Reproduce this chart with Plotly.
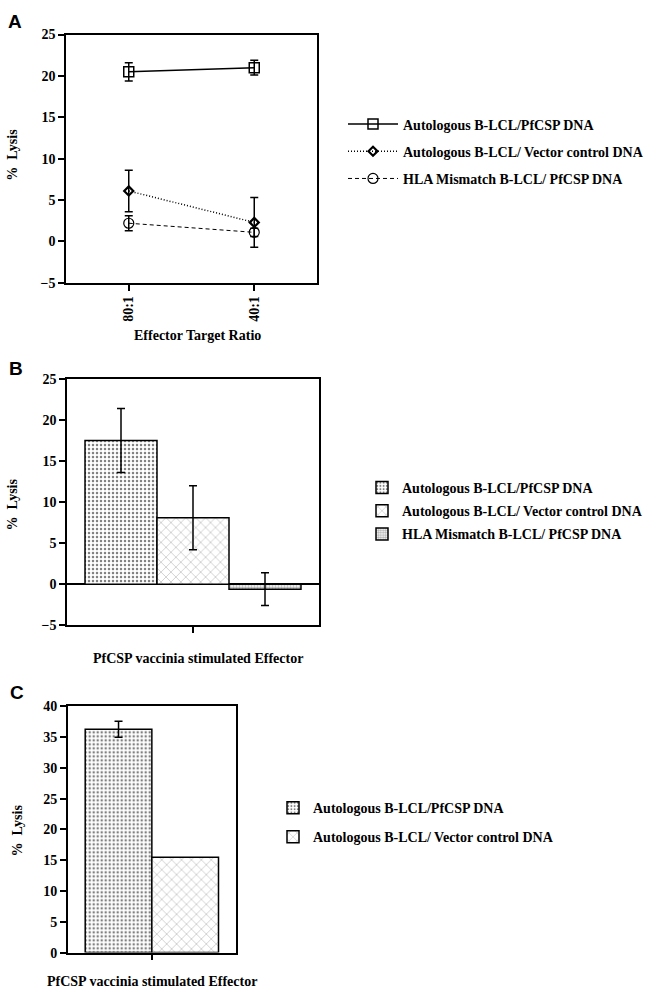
import plotly.graph_objects as go

# ---------------- data ----------------
ratios = ["80:1", "40:1"]
series_names = [
    "Autologous B-LCL/PfCSP DNA",
    "Autologous B-LCL/ Vector control DNA",
    "HLA Mismatch B-LCL/ PfCSP DNA",
]
a_pfcsp = [20.5, 21.0]
a_pfcsp_err = [1.1, 0.9]
a_vector = [6.1, 2.3]
a_vector_err = [2.5, 3.0]
a_mismatch = [2.2, 1.1]
a_mismatch_err = [0.9, 0.5]

b_category = ["PfCSP vaccinia stimulated Effector"]
b_values = [17.5, 8.1, -0.6]
b_errors = [3.9, 3.9, 2.0]

c_category = ["PfCSP vaccinia stimulated Effector"]
c_values = [36.3, 15.5]
c_errors = [1.3, 0.0]

y_ticks_ab = [-5, 0, 5, 10, 15, 20, 25]
y_ticks_c = [0, 5, 10, 15, 20, 25, 30, 35, 40]

# ---------------- helpers ----------------
W, H = 651, 1000
def px(x):
    return x / W
def py(y):
    return 1 - y / H

SERIF = "Liberation Serif"
SANS = "Liberation Sans"

fig = go.Figure()

# ---------------- panel A ----------------
line_styles = [
    dict(dash="solid", width=1.5, symbol="square-open", size=10, mlw=1.5),
    dict(dash="1px,2px", width=1.5, symbol="diamond-open", size=7, mlw=2.2),
    dict(dash="4px,3px", width=1.0, symbol="circle-open", size=10, mlw=1.2),
]
a_vals = [a_pfcsp, a_vector, a_mismatch]
a_errs = [a_pfcsp_err, a_vector_err, a_mismatch_err]
for i in range(3):
    st = line_styles[i]
    fig.add_trace(go.Scatter(
        x=ratios, y=a_vals[i], name=series_names[i],
        mode="lines+markers",
        line=dict(color="black", dash=st["dash"], width=st["width"]),
        marker=dict(symbol=st["symbol"], size=st["size"], color="black",
                    line=dict(color="black", width=st["mlw"])),
        error_y=dict(type="data", array=a_errs[i], visible=True,
                     color="black", thickness=1.5, width=4),
        xaxis="x", yaxis="y", legend="legend", legendgroup="a%d" % i,
    ))

# ---------------- panel B ----------------
patterns = [
    dict(shape=".", size=4, solidity=0.3, fgcolor="black", bgcolor="white"),
    dict(shape="x", size=7, solidity=0.12, fgcolor="#333", bgcolor="white"),
    dict(shape=".", size=3, solidity=0.55, fgcolor="#666", bgcolor="white"),
]
bw_b = 0.2857
for i in range(3):
    fig.add_trace(go.Bar(
        x=b_category, y=[b_values[i]], name=series_names[i],
        width=bw_b, offset=-1.5 * bw_b + i * bw_b,
        marker=dict(color="white", pattern=patterns[i],
                    line=dict(color="black", width=1.5)),
        error_y=dict(type="data", array=[b_errors[i]], visible=True,
                     color="black", thickness=1.5, width=4),
        xaxis="x2", yaxis="y2", legend="legend2", legendgroup="b%d" % i,
    ))

# ---------------- panel C ----------------
bw_c = 0.396
for i in range(2):
    fig.add_trace(go.Bar(
        x=c_category, y=[c_values[i]], name=series_names[i],
        width=bw_c, offset=-bw_c + i * bw_c,
        marker=dict(color="white", pattern=patterns[i],
                    line=dict(color="black", width=1.5)),
        error_y=dict(type="data", array=[c_errors[i]], visible=c_errors[i] > 0,
                     color="black", thickness=1.5, width=4),
        xaxis="x3", yaxis="y3", legend="legend3", legendgroup="c%d" % i,
    ))

tickfont = dict(family=SERIF, size=14, color="black", weight="bold")
axis_common = dict(showline=True, linecolor="black", linewidth=1.5, mirror=True,
                   showgrid=False, zeroline=False, ticks="outside",
                   ticklen=6, tickwidth=1.5, tickcolor="black", tickfont=tickfont)

legend_font = dict(family=SERIF, size=14, color="black", weight="bold")
fig.update_layout(
    width=W, height=H,
    margin=dict(l=0, r=0, t=0, b=0),
    paper_bgcolor="white", plot_bgcolor="white",
    font=dict(family=SERIF, size=14, color="black", weight="bold"),
    showlegend=True,
    xaxis=dict(domain=[px(66), px(317)], anchor="y", type="category",
               range=[-0.5, 1.5], tickangle=-90, **axis_common),
    yaxis=dict(domain=[py(280), py(28)], anchor="x", range=[-5, 25],
               tickvals=y_ticks_ab, **axis_common),
    xaxis2=dict(domain=[px(67), px(319)], anchor="y2", type="category",
                range=[-0.5, 0.5], showticklabels=False, **axis_common),
    yaxis2=dict(domain=[py(627.7), py(377.7)], anchor="x2", range=[-5, 25],
                tickvals=y_ticks_ab, **{**axis_common, "zeroline": True},
                zerolinecolor="black", zerolinewidth=1.5),
    xaxis3=dict(domain=[px(67.7), px(236)], anchor="y3", type="category",
                range=[-0.5, 0.5], showticklabels=False, **axis_common),
    yaxis3=dict(domain=[py(960), py(710)], anchor="x3", range=[0, 40],
                tickvals=y_ticks_c, **axis_common),
    legend=dict(x=px(343), y=py(103), xanchor="left", yanchor="top",
                traceorder="grouped", tracegroupgap=6, itemwidth=50,
                font=legend_font, bgcolor="rgba(0,0,0,0)"),
    legend2=dict(x=px(362), y=py(472), xanchor="left", yanchor="top",
                 traceorder="grouped", tracegroupgap=2,
                 font=legend_font, bgcolor="rgba(0,0,0,0)"),
    legend3=dict(x=px(273), y=py(797), xanchor="left", yanchor="top",
                 traceorder="grouped", tracegroupgap=8,
                 font=legend_font, bgcolor="rgba(0,0,0,0)"),
)

def ann(text, x, y, size=14, family=SERIF, angle=0):
    fig.add_annotation(text=text, x=px(x), y=py(y), xref="paper", yref="paper",
                       showarrow=False, textangle=angle, xanchor="center",
                       yanchor="middle",
                       font=dict(family=family, size=size, color="black",
                                 weight="bold"))

# panel letters
ann("A", 15, 15, size=19, family=SANS)
ann("B", 16, 367, size=19, family=SANS)
ann("C", 17, 696, size=19, family=SANS)
# y titles
ann("%  Lysis", 13, 150, angle=-90)
ann("%  Lysis", 12, 505, angle=-90)
ann("%  Lysis", 17, 836, angle=-90)
# x titles
ann("Effector Target Ratio", 197, 334)
ann("PfCSP vaccinia stimulated Effector", 198, 661)
ann("PfCSP vaccinia stimulated Effector", 151.5, 989)

fig.write_html("out.html",
               config={"displayModeBar": False},
               post_script="document.body.style.margin='0';"
                           "document.body.style.overflow='hidden';")
